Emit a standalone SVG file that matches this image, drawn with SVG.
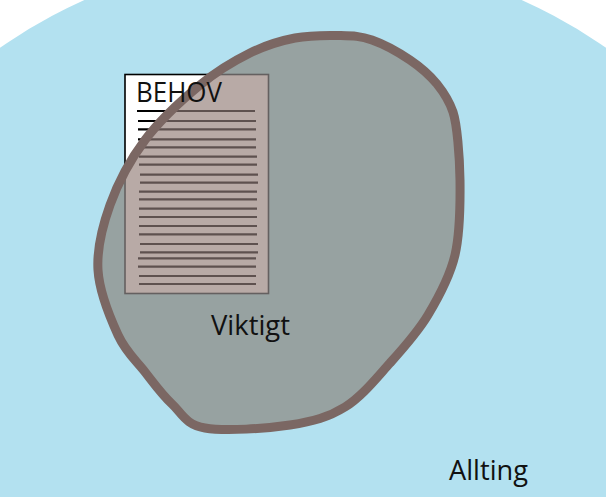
<svg xmlns="http://www.w3.org/2000/svg" width="606" height="497" viewBox="0 0 606 497">
  <style>
    .lbl { font-family: "Open Sans", "Noto Sans", "Liberation Sans", sans-serif; font-size: 28px; fill: #111; }
    .docline { stroke-width: 2.2; }
  </style>
  <defs>
    <path id="blob" d="M 295,38 C 310,35.1 327.2,35.2 340,35.5 C 352.8,35.8 360.3,35.9 372,40 C 383.7,44.1 399.2,52.7 410,60 C 420.8,67.3 429.8,75.3 437,84 C 443,91.5 449,100 453,112 C 457,124 459.7,156 460,180 C 460.3,203.8 460.3,232.5 455,255 C 449.7,277.5 438.8,297 428,315 C 417.2,333 403.8,347.7 390,363 C 376.2,378.3 361.7,396.7 345,407 C 328.3,417.3 313.3,421.5 290,425 C 266.7,428.5 224.7,431.5 205,428 C 185.3,424.5 182,413.3 172,404 C 162,394.7 154,383.5 145,372 C 136,360.5 125.8,352 118,335 C 110.2,318 99.3,291.7 98,270 C 96.7,248.3 102.2,226.7 110,205 C 117.8,183.3 130,160 145,140 C 160,120 182.5,99.5 200,85 C 217.5,70.5 234.2,60.8 250,53 C 265.8,45.2 280,40.9 295,38 Z"/>
    <clipPath id="blobClip"><use href="#blob"/></clipPath>
    <g id="lines">
      <line x1="137" y1="111" x2="255" y2="111"/>
      <line x1="138" y1="121" x2="256" y2="121"/>
      <line x1="138" y1="129.3" x2="256" y2="129.3"/>
      <line x1="138" y1="139.3" x2="256" y2="139.3"/>
      <line x1="138" y1="147.3" x2="256" y2="147.3"/>
      <line x1="139" y1="156.7" x2="257" y2="156.7"/>
      <line x1="139" y1="164.7" x2="257" y2="164.7"/>
      <line x1="140" y1="174.7" x2="258" y2="174.7"/>
      <line x1="140" y1="182.7" x2="258" y2="182.7"/>
      <line x1="139" y1="191.7" x2="257" y2="191.7"/>
      <line x1="139" y1="199.3" x2="257" y2="199.3"/>
      <line x1="139" y1="208.7" x2="257" y2="208.7"/>
      <line x1="139" y1="217" x2="257" y2="217"/>
      <line x1="139" y1="226" x2="257" y2="226"/>
      <line x1="139" y1="234.3" x2="257" y2="234.3"/>
      <line x1="140" y1="244" x2="258" y2="244"/>
      <line x1="140" y1="252.3" x2="258" y2="252.3"/>
      <line x1="138" y1="258.3" x2="256" y2="258.3"/>
      <line x1="138" y1="266.7" x2="256" y2="266.7"/>
      <line x1="139" y1="276" x2="256" y2="276"/>
      <line x1="139" y1="284" x2="256" y2="284"/>
    </g>
  </defs>

  <rect width="606" height="497" fill="#ffffff"/>
  <g id="allting">
    <circle cx="303" cy="485" r="532" fill="#b3e1f0"/>
    <text class="lbl" x="449" y="480" textLength="79" lengthAdjust="spacingAndGlyphs">Allting</text>
  </g>

  <g id="behov">
    <rect x="125" y="74.5" width="143.5" height="219" fill="#ffffff" stroke="#000" stroke-width="1.6"/>
    <use href="#lines" stroke="#000" class="docline"/>
  </g>

  <g id="viktigt">
    <use href="#blob" fill="#97a2a1"/>
    <g clip-path="url(#blobClip)">
      <rect x="125" y="74.5" width="143.5" height="219" fill="#b8aaa6" stroke="#646060" stroke-width="1.6"/>
      <use href="#lines" stroke="#5e514f" class="docline"/>
    </g>
    <use href="#blob" fill="none" stroke="#7b6763" stroke-width="9" stroke-linejoin="round"/>
    <text class="lbl" x="211" y="335" textLength="79" lengthAdjust="spacingAndGlyphs">Viktigt</text>
  </g>

  <g id="behov-label">
    <text class="lbl" x="136" y="101.5" textLength="86" lengthAdjust="spacingAndGlyphs">BEHOV</text>
  </g>

  <g id="connectors"/>
</svg>
